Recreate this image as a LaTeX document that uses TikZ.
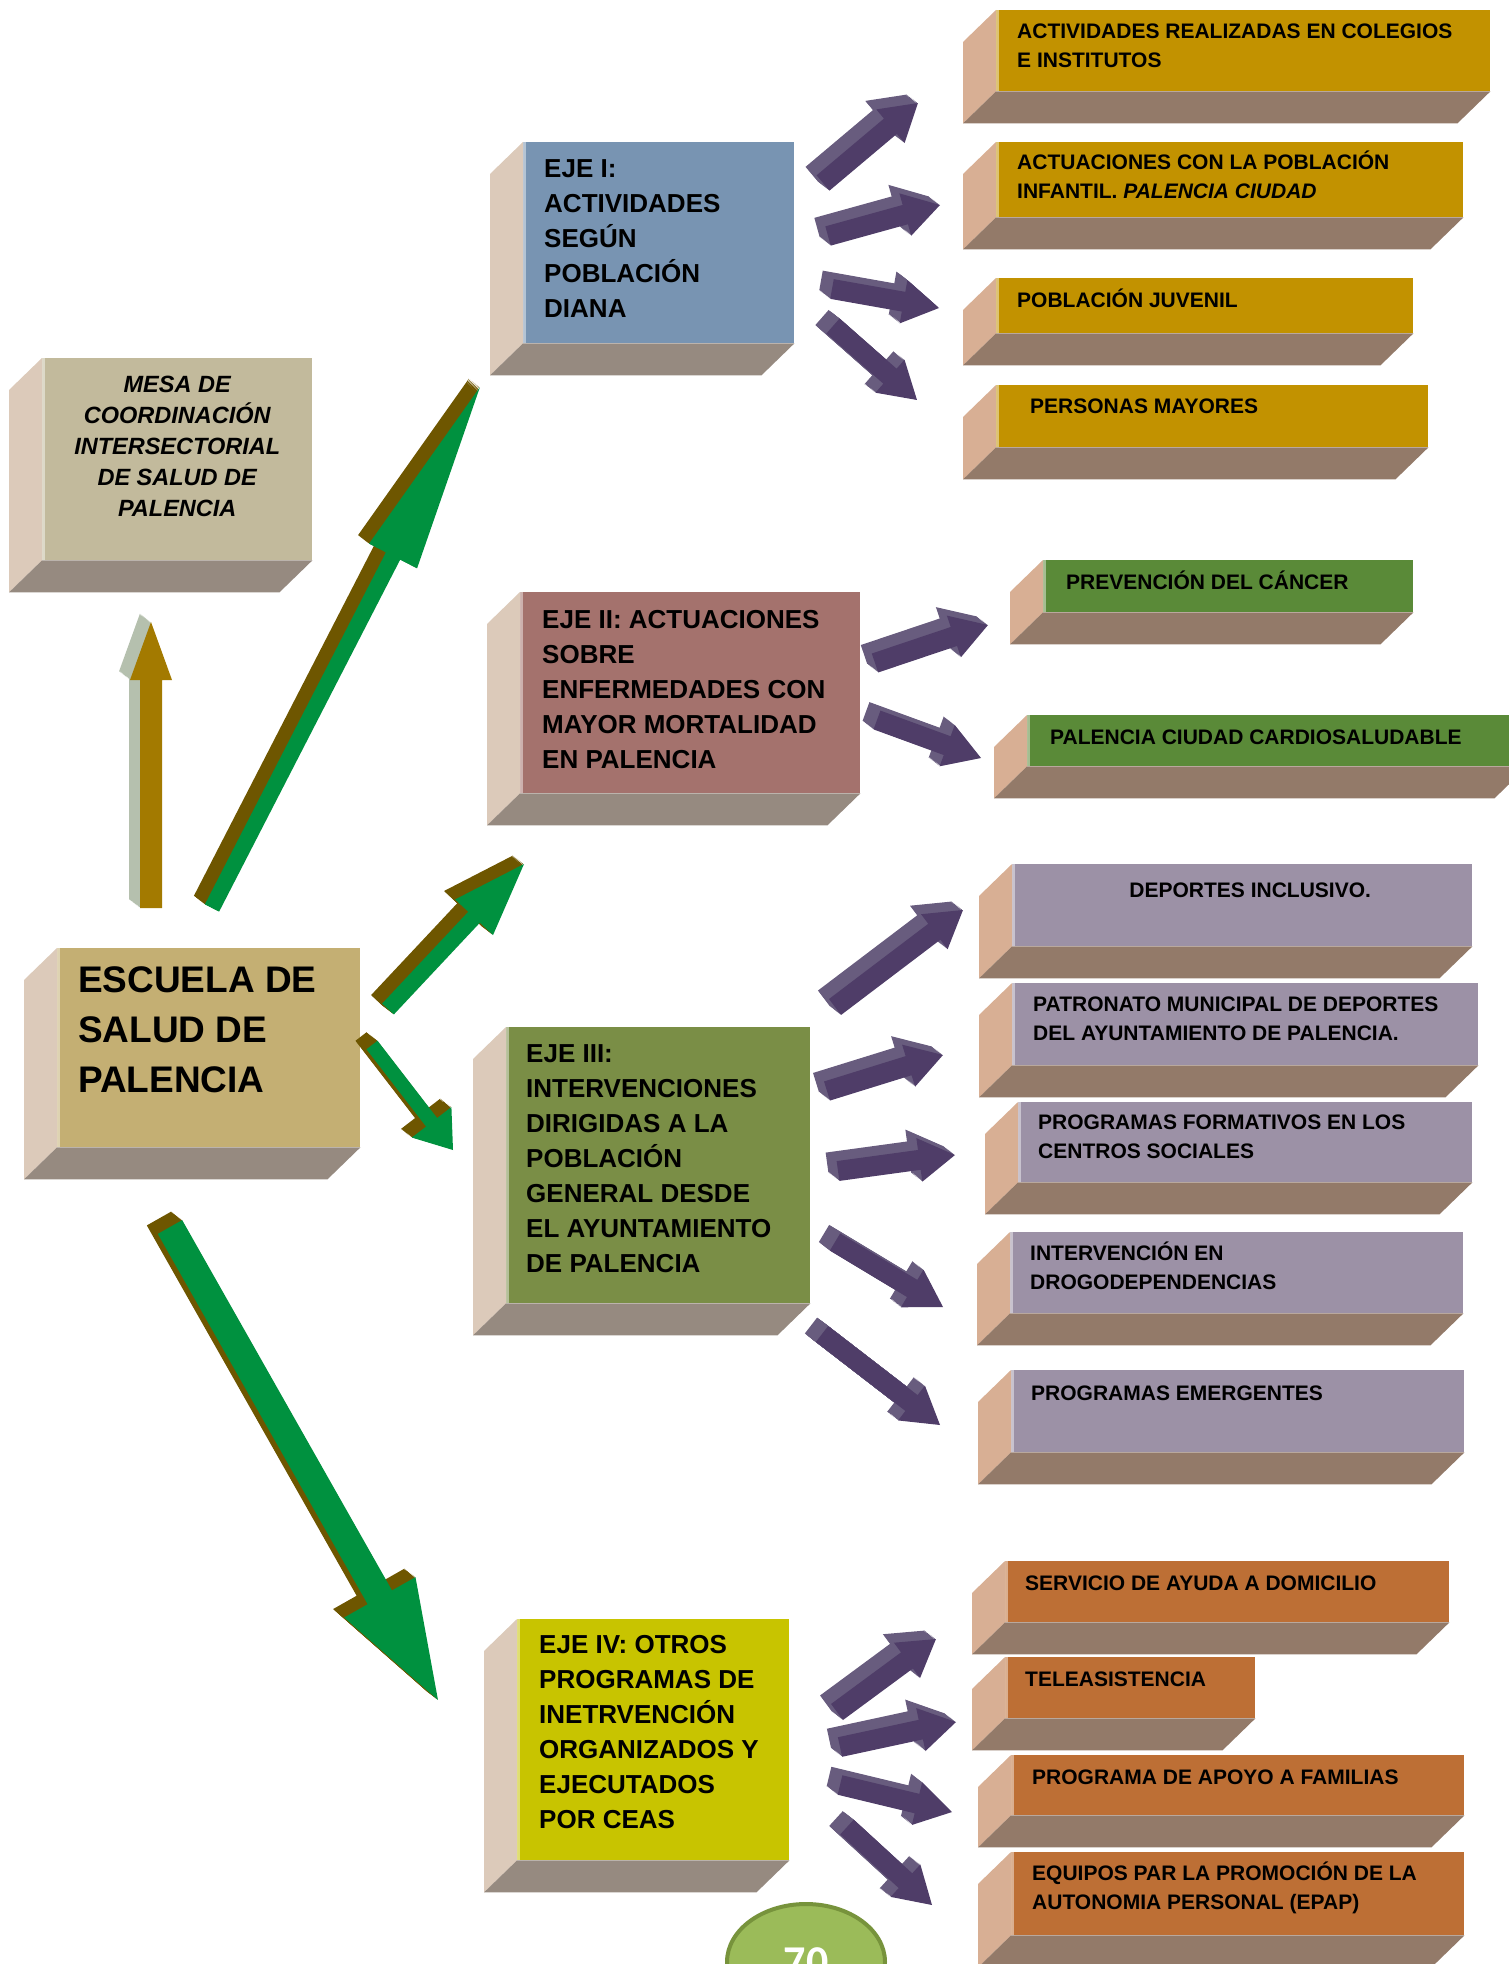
\documentclass[tikz,border=0pt]{standalone}
\usepackage{fontspec}
\setmainfont{Liberation Sans}
\newfontfamily\carlito{Carlito}
\usetikzlibrary{calc,positioning,shapes.geometric}

\definecolor{mesa}{HTML}{C2BA9C}
\definecolor{escuela}{HTML}{C4AF73}
\definecolor{ejeuno}{HTML}{7894B2}
\definecolor{ejedos}{HTML}{A4726D}
\definecolor{ejetres}{HTML}{7A8E46}
\definecolor{ejecuatro}{HTML}{C8C400}
\definecolor{oro}{HTML}{C29200}
\definecolor{prado}{HTML}{5A8A38}
\definecolor{lila}{HTML}{9C91A6}
\definecolor{teja}{HTML}{BD6F35}
\definecolor{ladoclaro}{HTML}{DCCABA}
\definecolor{fondogris}{HTML}{968A80}
\definecolor{ladomelocoton}{HTML}{D8AF94}
\definecolor{fondopardo}{HTML}{937A69}
\definecolor{verde}{HTML}{00913F}
\definecolor{verdelado}{HTML}{6E5600}
\definecolor{dorado}{HTML}{A37A00}
\definecolor{doradolado}{HTML}{B5C0AE}
\definecolor{morado}{HTML}{4F3D68}
\definecolor{moradolado}{HTML}{685C7E}
\definecolor{hoja}{HTML}{9BBB59}
\definecolor{hojaborde}{HTML}{77933C}

\tikzset{
  cara/.style={inner sep=0pt, anchor=north west},
  ejetexto/.style={font=\bfseries\fontsize{26}{35}\selectfont, align=left, anchor=base west, inner sep=0pt},
  rotulo/.style={font=\bfseries\fontsize{21}{29}\selectfont, align=left, anchor=base west, inner sep=0pt},
}

% caras de una caja en relieve
\newcommand{\caja}[3]{%
  \fill[#2] (#1.north west) -- ++(-33,32) -- ($(#1.south west)+(-33,32)$) -- (#1.south west) -- cycle;
  \fill[#3] (#1.south west) -- ($(#1.south west)+(-33,32)$) -- ($(#1.south east)+(-33,32)$) -- (#1.south east) -- cycle;
  \draw[white, opacity=.45, line width=3pt] ([xshift=1.5pt]#1.north west) -- ([xshift=1.5pt]#1.south west);}

% flecha gruesa en relieve: cola, punta, semiancho, semiancho punta, largo punta, color
\newcommand{\flecha}[6]{%
  \pgfpointdiff{\pgfpointanchor{#1}{center}}{\pgfpointanchor{#2}{center}}%
  \pgfgetlastxy{\fdx}{\fdy}%
  \pgfmathsetmacro{\fang}{atan2(\fdy,\fdx)}%
  \pgfmathsetmacro{\flen}{veclen(\fdx,\fdy)}%
  \begin{scope}[shift={(#1)}, x=1pt, y=1pt]
    \foreach \k in {10,9,...,1}
      \fill[#6lado, shift={(-1.1*\k,0.85*\k)}, rotate=\fang]
        (0,-#3) -- ({\flen-#5},-#3) -- ({\flen-#5},-#4) -- (\flen,0) -- ({\flen-#5},#4) -- ({\flen-#5},#3) -- (0,#3) -- cycle;
    \fill[#6, rotate=\fang]
        (0,-#3) -- ({\flen-#5},-#3) -- ({\flen-#5},-#4) -- (\flen,0) -- ({\flen-#5},#4) -- ({\flen-#5},#3) -- (0,#3) -- cycle;
  \end{scope}}

\begin{document}
\begin{tikzpicture}[x=1pt, y=-1pt]
\useasboundingbox (0,0) rectangle (1508,1964);

% columna izquierda (los textos se anclan en su ultima linea)
\node[cara, fill=mesa, minimum width=270, minimum height=202] (mesa) at (42,358) {};
\caja{mesa}{ladoclaro}{fondogris}
\node[font=\bfseries\itshape\fontsize{23.5}{31}\selectfont, align=center, anchor=base, inner sep=0pt] (mesatxt) at ([yshift=-158pt]mesa.north) {MESA DE\\COORDINACIÓN\\INTERSECTORIAL\\DE SALUD DE\\PALENCIA};

\node[cara, fill=escuela, minimum width=303, minimum height=199] (escuela) at (57,948) {};
\caja{escuela}{ladoclaro}{fondogris}
\node[font=\bfseries\fontsize{37}{50}\selectfont, align=left, anchor=base west, inner sep=0pt] (escuelatxt) at ([xshift=21pt,yshift=-144pt]escuela.north west) {ESCUELA DE\\SALUD DE\\PALENCIA};

% ejes
\node[cara, fill=ejeuno, minimum width=271, minimum height=201] (eje1) at (523,142) {};
\caja{eje1}{ladoclaro}{fondogris}
\node[ejetexto] (eje1txt) at ([xshift=21pt,yshift=-175pt]eje1.north west) {EJE I:\\ACTIVIDADES\\SEGÚN\\POBLACIÓN\\DIANA};

\node[cara, fill=ejedos, minimum width=340, minimum height=201] (eje2) at (520,592) {};
\caja{eje2}{ladoclaro}{fondogris}
\node[ejetexto] (eje2txt) at ([xshift=22pt,yshift=-176pt]eje2.north west) {EJE II: ACTUACIONES\\SOBRE\\ENFERMEDADES CON\\MAYOR MORTALIDAD\\EN PALENCIA};

\node[cara, fill=ejetres, minimum width=304, minimum height=276] (eje3) at (506,1027) {};
\caja{eje3}{ladoclaro}{fondogris}
\node[ejetexto] (eje3txt) at ([xshift=20pt,yshift=-245pt]eje3.north west) {EJE III:\\INTERVENCIONES\\DIRIGIDAS A LA\\POBLACIÓN\\GENERAL DESDE\\EL AYUNTAMIENTO\\DE PALENCIA};

\node[cara, fill=ejecuatro, minimum width=272, minimum height=241] (eje4) at (517,1619) {};
\caja{eje4}{ladoclaro}{fondogris}
\node[ejetexto] (eje4txt) at ([xshift=22pt,yshift=-209pt]eje4.north west) {EJE IV: OTROS\\PROGRAMAS DE\\INETRVENCIÓN\\ORGANIZADOS Y\\EJECUTADOS\\POR CEAS};

% eje I
\node[cara, fill=oro, minimum width=494, minimum height=81] (colegios) at (996,10) {};
\caja{colegios}{ladomelocoton}{fondopardo}
\node[rotulo] (colegiostxt) at ([xshift=21pt,yshift=-58pt]colegios.north west) {ACTIVIDADES REALIZADAS EN COLEGIOS\\E INSTITUTOS};
\node[cara, fill=oro, minimum width=467, minimum height=75] (infantil) at (996,142) {};
\caja{infantil}{ladomelocoton}{fondopardo}
\node[rotulo] (infantiltxt) at ([xshift=21pt,yshift=-57pt]infantil.north west) {ACTUACIONES CON LA POBLACIÓN\\INFANTIL. \textit{PALENCIA CIUDAD}};
\node[cara, fill=oro, minimum width=417, minimum height=55] (juvenil) at (996,278) {};
\caja{juvenil}{ladomelocoton}{fondopardo}
\node[rotulo] (juveniltxt) at ([xshift=21pt,yshift=-29pt]juvenil.north west) {POBLACIÓN JUVENIL};
\node[cara, fill=oro, minimum width=432, minimum height=62] (mayores) at (996,385) {};
\caja{mayores}{ladomelocoton}{fondopardo}
\node[rotulo] (mayorestxt) at ([xshift=34pt,yshift=-28pt]mayores.north west) {PERSONAS MAYORES};

% eje II
\node[cara, fill=prado, minimum width=370, minimum height=52] (cancer) at (1043,560) {};
\caja{cancer}{ladomelocoton}{fondopardo}
\node[rotulo] (cancertxt) at ([xshift=23pt,yshift=-29pt]cancer.north west) {PREVENCIÓN DEL CÁNCER};
\node[cara, fill=prado, minimum width=500, minimum height=51] (cardio) at (1027,715) {};
\caja{cardio}{ladomelocoton}{fondopardo}
\node[rotulo] (cardiotxt) at ([xshift=23pt,yshift=-29pt]cardio.north west) {PALENCIA CIUDAD CARDIOSALUDABLE};

% eje III
\node[cara, fill=lila, minimum width=460, minimum height=82] (deportes) at (1012,864) {};
\caja{deportes}{ladomelocoton}{fondopardo}
\node[rotulo, anchor=base] (deportestxt) at ([xshift=8pt,yshift=-33pt]deportes.north) {DEPORTES INCLUSIVO.};
\node[cara, fill=lila, minimum width=466, minimum height=82] (patronato) at (1012,983) {};
\caja{patronato}{ladomelocoton}{fondopardo}
\node[rotulo] (patronatotxt) at ([xshift=21pt,yshift=-57pt]patronato.north west) {PATRONATO MUNICIPAL DE DEPORTES\\DEL AYUNTAMIENTO DE PALENCIA.};
\node[cara, fill=lila, minimum width=454, minimum height=80] (formativos) at (1018,1102) {};
\caja{formativos}{ladomelocoton}{fondopardo}
\node[rotulo] (formativostxt) at ([xshift=20pt,yshift=-56pt]formativos.north west) {PROGRAMAS FORMATIVOS EN LOS\\CENTROS SOCIALES};
\node[cara, fill=lila, minimum width=453, minimum height=81] (drogas) at (1010,1232) {};
\caja{drogas}{ladomelocoton}{fondopardo}
\node[rotulo] (drogastxt) at ([xshift=20pt,yshift=-57pt]drogas.north west) {INTERVENCIÓN EN\\DROGODEPENDENCIAS};
\node[cara, fill=lila, minimum width=453, minimum height=82] (emergentes) at (1011,1370) {};
\caja{emergentes}{ladomelocoton}{fondopardo}
\node[rotulo] (emergentestxt) at ([xshift=20pt,yshift=-30pt]emergentes.north west) {PROGRAMAS EMERGENTES};

% eje IV
\node[cara, fill=teja, minimum width=444, minimum height=61] (domicilio) at (1005,1561) {};
\caja{domicilio}{ladomelocoton}{fondopardo}
\node[rotulo] (domiciliotxt) at ([xshift=20pt,yshift=-29pt]domicilio.north west) {SERVICIO DE AYUDA A DOMICILIO};
\node[cara, fill=teja, minimum width=250, minimum height=61] (tele) at (1005,1657) {};
\caja{tele}{ladomelocoton}{fondopardo}
\node[rotulo] (teletxt) at ([xshift=20pt,yshift=-29pt]tele.north west) {TELEASISTENCIA};
\node[cara, fill=teja, minimum width=453, minimum height=60] (familias) at (1011,1755) {};
\caja{familias}{ladomelocoton}{fondopardo}
\node[rotulo] (familiastxt) at ([xshift=21pt,yshift=-29pt]familias.north west) {PROGRAMA DE APOYO A FAMILIAS};
\node[cara, fill=teja, minimum width=453, minimum height=83] (epap) at (1011,1852) {};
\caja{epap}{ladomelocoton}{fondopardo}
\node[rotulo] (epaptxt) at ([xshift=21pt,yshift=-57pt]epap.north west) {EQUIPOS PAR LA PROMOCIÓN DE LA\\AUTONOMIA PERSONAL (EPAP)};

% flechas desde la escuela
\coordinate (sube0) at (151,908);  \coordinate (sube1) at (151,622);
\coordinate (uno0) at (212,908);   \coordinate (uno1) at (480,387);
\coordinate (dos0) at (388,1009);  \coordinate (dos1) at (524,864);
\coordinate (tres0) at (372,1045); \coordinate (tres1) at (453,1150);
\coordinate (cua0) at (170,1227);  \coordinate (cua1) at (438,1700);
\flecha{sube0}{sube1}{11}{21}{58}{dorado}
\flecha{uno0}{uno1}{8}{27}{190}{verde}
\flecha{dos0}{dos1}{8}{26}{73}{verde}
\flecha{tres0}{tres1}{7}{25}{35}{verde}
\flecha{cua0}{cua1}{14}{41}{118}{verde}

% flechas hacia los programas
\coordinate (m1a) at (823,183);  \coordinate (m1b) at (918,103);
\coordinate (m2a) at (828,236);  \coordinate (m2b) at (940,205);
\coordinate (m3a) at (832,289);  \coordinate (m3b) at (939,308);
\coordinate (m4a) at (833,326);  \coordinate (m4b) at (917,400);
\coordinate (m5a) at (875,663);  \coordinate (m5b) at (988,625);
\coordinate (m6a) at (877,720);  \coordinate (m6b) at (981,758);
\coordinate (m7a) at (835,1007); \coordinate (m7b) at (963,910);
\coordinate (m8a) at (827,1091); \coordinate (m8b) at (943,1055);
\coordinate (m9a) at (838,1171); \coordinate (m9b) at (955,1155);
\coordinate (m10a) at (835,1242); \coordinate (m10b) at (943,1307);
\coordinate (m11a) at (822,1334); \coordinate (m11b) at (940,1425);
\coordinate (m12a) at (837,1712); \coordinate (m12b) at (936,1639);
\coordinate (m13a) at (840,1747); \coordinate (m13b) at (956,1722);
\coordinate (m14a) at (840,1785); \coordinate (m14b) at (952,1812);
\coordinate (m15a) at (847,1827); \coordinate (m15b) at (932,1905);
\foreach \i in {1,...,15} {
  \flecha{m\i a}{m\i b}{10}{22}{36}{morado}
}

% numero de pagina
\node[ellipse, draw=hojaborde, line width=4pt, fill=hoja, minimum width=158, minimum height=116, inner sep=0pt, text=white, font=\carlito\bfseries\fontsize{44}{44}\selectfont] (pagina) at (806,1962) {70};

\end{tikzpicture}
\end{document}
